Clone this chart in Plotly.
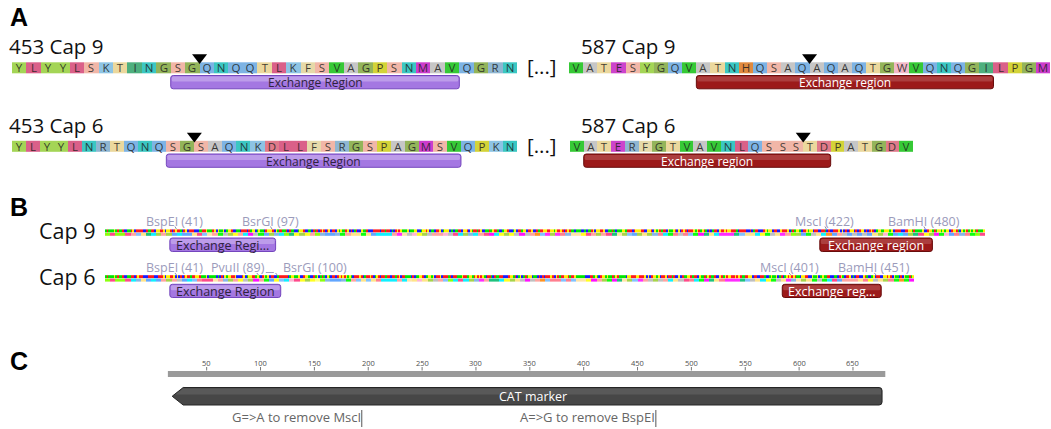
import plotly.graph_objects as go

# ---------------- Panel A: peptide windows around the two exchange sites ----------------
cap9_453 = "YLYYLSKTINGSGQNQQTLKFSVAGPSNMAVQGRN"
cap9_587 = "VATESYGQVATNHQSAQAQAQTGWVQNQGILPGM"
cap6_453 = "YLYYLNRTQNQSGSAQNKDLLFSRGSPAGMSVQPKN"
cap6_587 = "VATERFGTVAVNLQSSSTDPATGDV"

window_titles = ["453 Cap 9", "587 Cap 9", "453 Cap 6", "587 Cap 6"]
window_seqs = [cap9_453, cap9_587, cap6_453, cap6_587]
window_exchange = [(11, 31), (9, 30), (11, 32), (1, 19)]        # residue index spans
window_exchange_names = ["Exchange Region", "Exchange region", "Exchange Region", "Exchange region"]
window_cuts = [13, 17, 13, 17]                                   # residue boundary of the cut

# ---------------- Panel B: exchanged fragments ----------------
cap9_fragment = ("YLYYLSKTINGSGQNQQTLKFSVAGPSNMAVQGRN"
                 "YIPGPSYRQQRVSTTVTQNNNSEFAWPGASSWALNGRNSLMNPGPAMASHKEGEDRFFPLSGSLIFGKQGTGRDNVDADKVMITNEEEIKTTNP"
                 "VATESYGQVATNHQSAQAQAQTGWVQNQGILPGM"
                 "VWQDRDVYL")
cap6_fragment = ("YLYYLNRTQNQSGSAQNKDLLFSRGSPAGMSVQPKN"
                 "WLPGPCYRQQRVSKTKTDNNNSNFTWTGASKYNLNGRESIINPGTAMASHKDDKDKFFPMSGVMIFGKESAGASNTALDNVMITDEEEIKATNP"
                 "VATERFGTVAVNLQSSSTDPATGDV"
                 "HVM")
fragment_names = ["Cap 9", "Cap 6"]
cap9_site_names = ["BspEI", "BsrGI", "MscI", "BamHI"]
cap9_site_bp = [41, 97, 422, 480]
cap6_site_names = ["BspEI", "PvuII", "BsrGI", "MscI", "BamHI"]
cap6_site_bp = [41, 89, 100, 401, 451]
cap9_exchange_bp = [(38, 100), (419, 485)]
cap9_exchange_names = ["Exchange Regi...", "Exchange region"]
cap6_exchange_bp = [(38, 103), (397, 455)]
cap6_exchange_names = ["Exchange Region", "Exchange reg..."]

# ---------------- Panel C: CAT cassette ----------------
ruler_span_bp = (14, 680)
ruler_ticks = [50, 100, 150, 200, 250, 300, 350, 400, 450, 500, 550, 600, 650]
cat_span_bp = (18, 677)
cat_name = "CAT marker"
note_bp = [194, 467]
note_text = ["G=>A to remove MscI", "A=>G to remove BspEI"]

# ---------------- colour schemes ----------------
AA = "ACDEFGHIKLMNPQRSTVWY"
aa_pastel = {
    "A": "#c6c6c6", "C": "#e4e43a", "D": "#e07a8a", "E": "#cc44cc", "F": "#e6d9a9",
    "G": "#93b45a", "H": "#e08a3e", "I": "#4daf7e", "K": "#8dc4e4", "L": "#da6089",
    "M": "#cc3ccc", "N": "#3bc7c2", "P": "#d3d338", "Q": "#7db3e4", "R": "#8fb6d1",
    "S": "#f1b6a7", "T": "#ebd89d", "V": "#36c936", "W": "#f1b9c8", "Y": "#a4d556",
}
aa_bright = {
    "A": "#c0c0c0", "C": "#ffff80", "D": "#ff7f8f", "E": "#ff2cff", "F": "#ffe4a8",
    "G": "#a8d44a", "H": "#ff9424", "I": "#1fc27e", "K": "#82c2ff", "L": "#ff4a8a",
    "M": "#ff10ff", "N": "#10f0ff", "P": "#ffff20", "Q": "#62a6ff", "R": "#88b6e6",
    "S": "#ffa4a0", "T": "#ffe488", "V": "#10ff10", "W": "#ffb4d4", "Y": "#8cff10",
}
NT = "ACGT"
nt_colors = {"A": "#ff1a1a", "C": "#1a1aff", "G": "#ffee00", "T": "#00e600"}

# back-translation used for the nucleotide track
codons = {
    "A": ("GCA", "GCT"), "R": ("AGA", "CGT"), "N": ("AAT", "AAC"), "D": ("GAT", "GAC"),
    "C": ("TGT", "TGC"), "Q": ("CAA", "CAG"), "E": ("GAA", "GAG"), "G": ("GGA", "GGT"),
    "H": ("CAT", "CAC"), "I": ("ATT", "ATC"), "L": ("CTT", "TTG"), "K": ("AAA", "AAG"),
    "M": ("ATG", "ATG"), "F": ("TTT", "TTC"), "P": ("CCA", "CCT"), "S": ("TCA", "AGC"),
    "T": ("ACT", "ACC"), "W": ("TGG", "TGG"), "Y": ("TAT", "TAC"), "V": ("GTT", "GTG"),
}


def stepped(colors):
    n = len(colors)
    cs = []
    for i, c in enumerate(colors):
        cs += [[i / n, c], [(i + 1) / n, c]]
    return cs


def rrect(x0, y0, x1, y1, r):
    return (f"M{x0 + r},{y0} L{x1 - r},{y0} Q{x1},{y0} {x1},{y0 + r} L{x1},{y1 - r} "
            f"Q{x1},{y1} {x1 - r},{y1} L{x0 + r},{y1} Q{x0},{y1} {x0},{y1 - r} "
            f"L{x0},{y0 + r} Q{x0},{y0} {x0 + r},{y0} Z")


W, H = 1051, 429
FONT = "Open Sans"
fig = go.Figure()
shapes = []
annotations = []

AA_SCALE_PASTEL = stepped([aa_pastel[a] for a in AA])
AA_SCALE_BRIGHT = stepped([aa_bright[a] for a in AA])
NT_SCALE = stepped([nt_colors[n] for n in NT])


def label(x, y, text, size, color="#111", xanchor="left", family=FONT, bold=False):
    if bold:
        text = f"<b>{text}</b>"
    annotations.append(dict(x=x, y=y, xref="x", yref="y", text=text, showarrow=False,
                            xanchor=xanchor, yanchor="middle", borderpad=0, borderwidth=0,
                            font=dict(size=size, color=color, family=family)))


def feature_bar(x0, x1, y0, y1, kind, text, size):
    if kind == "purple":
        fill, edge, tcol, hi = "#a477e2", "#7446bd", "#2f2340", "rgba(255,255,255,0.28)"
    else:
        fill, edge, tcol, hi = "#9c1a1a", "#680c0c", "#ffffff", "rgba(255,255,255,0.16)"
    shapes.append(dict(type="path", path=rrect(x0, y0, x1, y1, 2.5), fillcolor=fill,
                       line=dict(color=edge, width=1), layer="above"))
    shapes.append(dict(type="path", path=rrect(x0 + 1, y0 + 1, x1 - 1, y0 + (y1 - y0) * 0.45, 1.5),
                       fillcolor=hi, line=dict(width=0), layer="above"))
    label((x0 + x1) / 2, (y0 + y1) / 2 + 0.5, text, size, tcol, "center")


# ---------------- Panel A ----------------
label(10, 17, "A", 25, "#000", family="Liberation Sans, Arial", bold=True)
row_geom = [  # cell origin, cell width, row centre, title x, title y
    (12, 14.43, 68, 9, 46),
    (569, 14.15, 68, 581, 46),
    (12, 14.03, 146.5, 9, 124.5),
    (570, 13.72, 146.5, 581, 124.5),
]
for seq, title, (e0, e1), ename, cut, (x0, w, yc, tx, ty) in zip(
        window_seqs, window_titles, window_exchange, window_exchange_names, window_cuts, row_geom):
    n = len(seq)
    fig.add_trace(go.Heatmap(
        x=[x0 + k * w for k in range(n + 1)], y=[yc - 5.7, yc + 5.7],
        z=[[AA.index(a) for a in seq]], text=[list(seq)], texttemplate="%{text}",
        textfont=dict(size=11.5, color="rgba(30,30,30,0.85)", family=FONT),
        colorscale=AA_SCALE_PASTEL, zmin=-0.5, zmax=len(AA) - 0.5,
        showscale=False, hoverinfo="skip"))
    label(tx, ty, title, 20.5, "#111")
    fig.add_trace(go.Scatter(x=[x0 + cut * w], y=[yc - 10.5], mode="markers",
                             marker=dict(symbol="triangle-down", size=13, color="#000"),
                             hoverinfo="skip"))
    kind = "purple" if x0 < 300 else "red"
    feature_bar(x0 + e0 * w, x0 + e1 * w, yc + 7.5, yc + 20.8, kind, ename, 12)

for yc in (66, 144.5):
    label(542, yc, "[...]", 20.5, "#111", "center")

# ---------------- Panel B ----------------
label(10, 207, "B", 25, "#000", family="Liberation Sans, Arial", bold=True)
bp_x0, bp_px = 105, 1.706
track_geom = [  # title y, nt stripe, aa stripe, site label y, feature bar
    (230, (229.4, 232.0), (232.8, 235.4), 221, (238, 251.5)),
    (276, (275.2, 277.8), (278.6, 281.2), 267.5, (284.3, 297.5)),
]
site_anchor = {("Cap 6", "PvuII"): ("right", 8), ("Cap 6", "BsrGI"): ("left", 7)}
tracks = [
    (cap9_fragment, cap9_site_names, cap9_site_bp, cap9_exchange_bp, cap9_exchange_names),
    (cap6_fragment, cap6_site_names, cap6_site_bp, cap6_exchange_bp, cap6_exchange_names),
]
for name, (frag, snames, sbp, ebp, enames), (ty, nt_y, aa_y, ly, (by0, by1)) in zip(
        fragment_names, tracks, track_geom):
    dna = "".join(codons[a][i % 2] for i, a in enumerate(frag))
    fig.add_trace(go.Heatmap(
        x=[bp_x0 + k * bp_px for k in range(len(dna) + 1)], y=list(nt_y),
        z=[[NT.index(b) for b in dna]], colorscale=NT_SCALE, zmin=-0.5, zmax=3.5,
        showscale=False, hoverinfo="skip"))
    fig.add_trace(go.Heatmap(
        x=[bp_x0 + 3 * k * bp_px for k in range(len(frag) + 1)], y=list(aa_y),
        z=[[AA.index(a) for a in frag]], colorscale=AA_SCALE_BRIGHT, zmin=-0.5, zmax=len(AA) - 0.5,
        showscale=False, hoverinfo="skip"))
    label(39, ty, name, 21.5, "#111")
    for sn, sb in zip(snames, sbp):
        sx = bp_x0 + sb * bp_px
        anchor, dx = site_anchor.get((name, sn), ("center", 0))
        label(sx + dx, ly, f"{sn} ({sb})", 12.5, "#9b9bbb", anchor)
        shapes.append(dict(type="line", x0=sx, x1=sx + 1.5, y0=ly + 5.5, y1=nt_y[0] - 0.3,
                           line=dict(color="#8d8db0", width=1)))
    if name == "Cap 6":
        p = bp_x0 + 89 * bp_px
        shapes.append(dict(type="line", x0=p + 9, x1=p + 17, y0=ly + 5, y1=ly + 5,
                           line=dict(color="#a0a0c0", width=1)))
    for (e0, e1), en, kind in zip(ebp, enames, ["purple", "red"]):
        feature_bar(bp_x0 + e0 * bp_px, bp_x0 + e1 * bp_px, by0, by1, kind, en, 12.5)

# ---------------- Panel C ----------------
label(10, 361, "C", 25, "#000", family="Liberation Sans, Arial", bold=True)
r_x0, r_px = 152.8, 1.0772


def rx(bp):
    return r_x0 + bp * r_px


shapes.append(dict(type="rect", x0=rx(ruler_span_bp[0]), x1=rx(ruler_span_bp[1]), y0=371, y1=377,
                   fillcolor="#9a9a9a", line=dict(width=0)))
for t in ruler_ticks:
    label(rx(t), 362.5, str(t), 7.5, "#505050", "center")
    shapes.append(dict(type="line", x0=rx(t), x1=rx(t), y0=367, y1=370.5,
                       line=dict(color="#777", width=1)))

tip, end = rx(cat_span_bp[0]), rx(cat_span_bp[1])
ay0, ay1 = 387.5, 405
arrow = (f"M{tip},{(ay0 + ay1) / 2} L{tip + 11},{ay0} L{end - 3},{ay0} Q{end},{ay0} {end},{ay0 + 3} "
         f"L{end},{ay1 - 3} Q{end},{ay1} {end - 3},{ay1} L{tip + 11},{ay1} Z")
shapes.append(dict(type="path", path=arrow, fillcolor="#474747", line=dict(color="#262626", width=1)))
hl = (f"M{tip + 3},{ay0 + 7} L{tip + 11},{ay0 + 1} L{end - 3},{ay0 + 1} Q{end - 1},{ay0 + 1} {end - 1},{ay0 + 3} "
      f"L{end - 1},{ay0 + 7} Z")
shapes.append(dict(type="path", path=hl, fillcolor="rgba(255,255,255,0.10)", line=dict(width=0)))
label((tip + 11 + end) / 2, (ay0 + ay1) / 2 + 0.5, cat_name, 12.5, "#ffffff", "center")

for nb, nt in zip(note_bp, note_text):
    x = rx(nb)
    label(x - 1, 417, nt, 13, "#666", "right")
    shapes.append(dict(type="line", x0=x, x1=x, y0=410, y1=427, line=dict(color="#555", width=1)))

fig.update_layout(
    width=W, height=H, margin=dict(l=0, r=0, t=0, b=0),
    paper_bgcolor="white", plot_bgcolor="white", showlegend=False,
    xaxis=dict(range=[0, W], visible=False, fixedrange=True),
    yaxis=dict(range=[H, 0], visible=False, fixedrange=True),
    shapes=shapes, annotations=annotations,
)
fig.write_html("out.html")
